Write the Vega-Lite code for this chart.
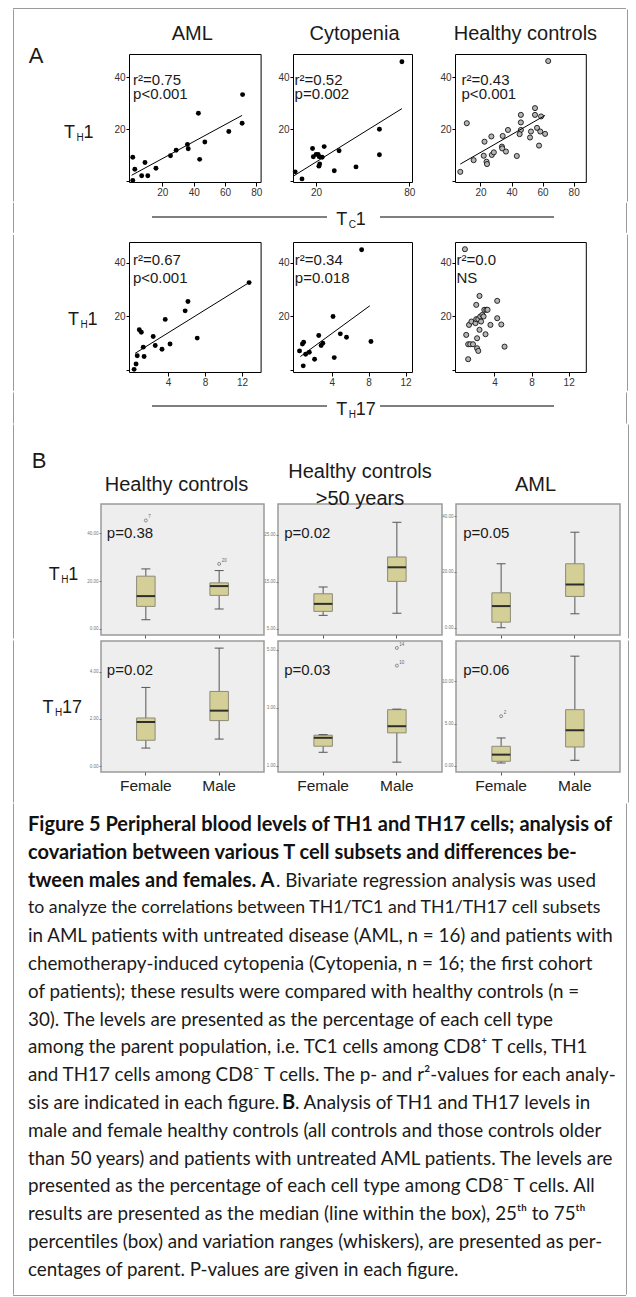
{
  "$schema": "https://vega.github.io/schema/vega-lite/v6.json",
  "background": "white",
  "padding": {"left": 12, "top": 8, "right": 0, "bottom": 0},
  "spacing": 0,
  "datasets": {
    "scatter": [
      {"vs": "TC1", "group": "AML", "pct": 1.1, "th1": 9.2},
      {"vs": "TC1", "group": "AML", "pct": 2.4, "th1": 4.6},
      {"vs": "TC1", "group": "AML", "pct": 1.1, "th1": 0.3},
      {"vs": "TC1", "group": "AML", "pct": 6.8, "th1": 2.1},
      {"vs": "TC1", "group": "AML", "pct": 8.9, "th1": 7.2},
      {"vs": "TC1", "group": "AML", "pct": 10.7, "th1": 2.1},
      {"vs": "TC1", "group": "AML", "pct": 15.9, "th1": 5.0},
      {"vs": "TC1", "group": "AML", "pct": 25.2, "th1": 9.8},
      {"vs": "TC1", "group": "AML", "pct": 28.8, "th1": 11.9},
      {"vs": "TC1", "group": "AML", "pct": 36.0, "th1": 14.1},
      {"vs": "TC1", "group": "AML", "pct": 36.5, "th1": 12.5},
      {"vs": "TC1", "group": "AML", "pct": 43.0, "th1": 26.1},
      {"vs": "TC1", "group": "AML", "pct": 43.8, "th1": 8.4},
      {"vs": "TC1", "group": "AML", "pct": 47.1, "th1": 15.1},
      {"vs": "TC1", "group": "AML", "pct": 62.4, "th1": 19.1},
      {"vs": "TC1", "group": "AML", "pct": 70.9, "th1": 22.3},
      {"vs": "TC1", "group": "AML", "pct": 71.2, "th1": 33.3},
      {"vs": "TC1", "group": "Cytopenia", "pct": 6.5, "th1": 3.6},
      {"vs": "TC1", "group": "Cytopenia", "pct": 10.9, "th1": 0.9},
      {"vs": "TC1", "group": "Cytopenia", "pct": 17.7, "th1": 12.6},
      {"vs": "TC1", "group": "Cytopenia", "pct": 18.2, "th1": 9.4},
      {"vs": "TC1", "group": "Cytopenia", "pct": 20.0, "th1": 10.3},
      {"vs": "TC1", "group": "Cytopenia", "pct": 21.3, "th1": 10.3},
      {"vs": "TC1", "group": "Cytopenia", "pct": 22.0, "th1": 9.4},
      {"vs": "TC1", "group": "Cytopenia", "pct": 23.9, "th1": 9.2},
      {"vs": "TC1", "group": "Cytopenia", "pct": 22.3, "th1": 6.6},
      {"vs": "TC1", "group": "Cytopenia", "pct": 21.8, "th1": 5.8},
      {"vs": "TC1", "group": "Cytopenia", "pct": 25.2, "th1": 13.3},
      {"vs": "TC1", "group": "Cytopenia", "pct": 34.8, "th1": 11.7},
      {"vs": "TC1", "group": "Cytopenia", "pct": 31.7, "th1": 4.0},
      {"vs": "TC1", "group": "Cytopenia", "pct": 45.7, "th1": 5.5},
      {"vs": "TC1", "group": "Cytopenia", "pct": 60.8, "th1": 20.0},
      {"vs": "TC1", "group": "Cytopenia", "pct": 60.8, "th1": 10.2},
      {"vs": "TC1", "group": "Cytopenia", "pct": 75.3, "th1": 45.9},
      {"vs": "TC1", "group": "Healthy controls", "pct": 7.0, "th1": 3.6},
      {"vs": "TC1", "group": "Healthy controls", "pct": 11.2, "th1": 22.3},
      {"vs": "TC1", "group": "Healthy controls", "pct": 15.6, "th1": 8.1},
      {"vs": "TC1", "group": "Healthy controls", "pct": 22.6, "th1": 15.2},
      {"vs": "TC1", "group": "Healthy controls", "pct": 22.1, "th1": 9.8},
      {"vs": "TC1", "group": "Healthy controls", "pct": 23.9, "th1": 7.5},
      {"vs": "TC1", "group": "Healthy controls", "pct": 24.2, "th1": 6.6},
      {"vs": "TC1", "group": "Healthy controls", "pct": 27.0, "th1": 17.2},
      {"vs": "TC1", "group": "Healthy controls", "pct": 27.3, "th1": 10.1},
      {"vs": "TC1", "group": "Healthy controls", "pct": 28.6, "th1": 11.1},
      {"vs": "TC1", "group": "Healthy controls", "pct": 34.3, "th1": 17.4},
      {"vs": "TC1", "group": "Healthy controls", "pct": 33.8, "th1": 13.3},
      {"vs": "TC1", "group": "Healthy controls", "pct": 34.0, "th1": 12.6},
      {"vs": "TC1", "group": "Healthy controls", "pct": 36.4, "th1": 11.4},
      {"vs": "TC1", "group": "Healthy controls", "pct": 37.7, "th1": 19.7},
      {"vs": "TC1", "group": "Healthy controls", "pct": 43.4, "th1": 9.7},
      {"vs": "TC1", "group": "Healthy controls", "pct": 46.0, "th1": 25.5},
      {"vs": "TC1", "group": "Healthy controls", "pct": 46.0, "th1": 22.6},
      {"vs": "TC1", "group": "Healthy controls", "pct": 46.0, "th1": 19.7},
      {"vs": "TC1", "group": "Healthy controls", "pct": 45.2, "th1": 18.1},
      {"vs": "TC1", "group": "Healthy controls", "pct": 52.5, "th1": 19.1},
      {"vs": "TC1", "group": "Healthy controls", "pct": 51.9, "th1": 16.8},
      {"vs": "TC1", "group": "Healthy controls", "pct": 55.1, "th1": 25.5},
      {"vs": "TC1", "group": "Healthy controls", "pct": 55.1, "th1": 28.1},
      {"vs": "TC1", "group": "Healthy controls", "pct": 56.4, "th1": 20.5},
      {"vs": "TC1", "group": "Healthy controls", "pct": 57.7, "th1": 13.7},
      {"vs": "TC1", "group": "Healthy controls", "pct": 59.0, "th1": 24.9},
      {"vs": "TC1", "group": "Healthy controls", "pct": 58.5, "th1": 19.1},
      {"vs": "TC1", "group": "Healthy controls", "pct": 61.6, "th1": 18.2},
      {"vs": "TC1", "group": "Healthy controls", "pct": 63.6, "th1": 46.2},
      {"vs": "TH17", "group": "AML", "pct": 0.35, "th1": 0.1},
      {"vs": "TH17", "group": "AML", "pct": 0.56, "th1": 2.1},
      {"vs": "TH17", "group": "AML", "pct": 0.69, "th1": 5.2},
      {"vs": "TH17", "group": "AML", "pct": 0.91, "th1": 14.9},
      {"vs": "TH17", "group": "AML", "pct": 1.13, "th1": 14.0},
      {"vs": "TH17", "group": "AML", "pct": 1.34, "th1": 8.4},
      {"vs": "TH17", "group": "AML", "pct": 1.43, "th1": 4.9},
      {"vs": "TH17", "group": "AML", "pct": 2.41, "th1": 12.4},
      {"vs": "TH17", "group": "AML", "pct": 2.63, "th1": 9.0},
      {"vs": "TH17", "group": "AML", "pct": 3.36, "th1": 7.6},
      {"vs": "TH17", "group": "AML", "pct": 3.71, "th1": 18.8},
      {"vs": "TH17", "group": "AML", "pct": 4.23, "th1": 9.6},
      {"vs": "TH17", "group": "AML", "pct": 5.86, "th1": 22.0},
      {"vs": "TH17", "group": "AML", "pct": 6.16, "th1": 25.5},
      {"vs": "TH17", "group": "AML", "pct": 7.16, "th1": 11.8},
      {"vs": "TH17", "group": "AML", "pct": 12.76, "th1": 32.6},
      {"vs": "TH17", "group": "Cytopenia", "pct": 0.51, "th1": 7.0},
      {"vs": "TH17", "group": "Cytopenia", "pct": 0.82, "th1": 9.6},
      {"vs": "TH17", "group": "Cytopenia", "pct": 0.91, "th1": 1.4},
      {"vs": "TH17", "group": "Cytopenia", "pct": 0.95, "th1": 10.25},
      {"vs": "TH17", "group": "Cytopenia", "pct": 1.17, "th1": 5.75},
      {"vs": "TH17", "group": "Cytopenia", "pct": 1.57, "th1": 6.5},
      {"vs": "TH17", "group": "Cytopenia", "pct": 2.14, "th1": 3.9},
      {"vs": "TH17", "group": "Cytopenia", "pct": 2.59, "th1": 12.75},
      {"vs": "TH17", "group": "Cytopenia", "pct": 2.85, "th1": 9.0},
      {"vs": "TH17", "group": "Cytopenia", "pct": 3.03, "th1": 9.9},
      {"vs": "TH17", "group": "Cytopenia", "pct": 4.27, "th1": 4.5},
      {"vs": "TH17", "group": "Cytopenia", "pct": 4.14, "th1": 19.9},
      {"vs": "TH17", "group": "Cytopenia", "pct": 4.93, "th1": 13.4},
      {"vs": "TH17", "group": "Cytopenia", "pct": 5.6, "th1": 12.1},
      {"vs": "TH17", "group": "Cytopenia", "pct": 7.24, "th1": 44.9},
      {"vs": "TH17", "group": "Cytopenia", "pct": 8.25, "th1": 10.5},
      {"vs": "TH17", "group": "Healthy controls", "pct": 0.82, "th1": 45.1},
      {"vs": "TH17", "group": "Healthy controls", "pct": 0.96, "th1": 13.0},
      {"vs": "TH17", "group": "Healthy controls", "pct": 1.17, "th1": 9.5},
      {"vs": "TH17", "group": "Healthy controls", "pct": 1.26, "th1": 16.75},
      {"vs": "TH17", "group": "Healthy controls", "pct": 1.39, "th1": 9.5},
      {"vs": "TH17", "group": "Healthy controls", "pct": 1.17, "th1": 3.9},
      {"vs": "TH17", "group": "Healthy controls", "pct": 1.69, "th1": 9.5},
      {"vs": "TH17", "group": "Healthy controls", "pct": 1.52, "th1": 18.0},
      {"vs": "TH17", "group": "Healthy controls", "pct": 1.96, "th1": 17.4},
      {"vs": "TH17", "group": "Healthy controls", "pct": 2.04, "th1": 18.9},
      {"vs": "TH17", "group": "Healthy controls", "pct": 2.04, "th1": 24.25},
      {"vs": "TH17", "group": "Healthy controls", "pct": 2.13, "th1": 11.75},
      {"vs": "TH17", "group": "Healthy controls", "pct": 2.13, "th1": 8.0},
      {"vs": "TH17", "group": "Healthy controls", "pct": 2.26, "th1": 7.0},
      {"vs": "TH17", "group": "Healthy controls", "pct": 2.26, "th1": 18.9},
      {"vs": "TH17", "group": "Healthy controls", "pct": 2.39, "th1": 14.9},
      {"vs": "TH17", "group": "Healthy controls", "pct": 2.39, "th1": 27.6},
      {"vs": "TH17", "group": "Healthy controls", "pct": 2.47, "th1": 19.9},
      {"vs": "TH17", "group": "Healthy controls", "pct": 2.56, "th1": 18.0},
      {"vs": "TH17", "group": "Healthy controls", "pct": 2.7, "th1": 20.5},
      {"vs": "TH17", "group": "Healthy controls", "pct": 2.83, "th1": 19.9},
      {"vs": "TH17", "group": "Healthy controls", "pct": 2.91, "th1": 22.4},
      {"vs": "TH17", "group": "Healthy controls", "pct": 3.04, "th1": 13.25},
      {"vs": "TH17", "group": "Healthy controls", "pct": 3.13, "th1": 22.4},
      {"vs": "TH17", "group": "Healthy controls", "pct": 3.26, "th1": 22.4},
      {"vs": "TH17", "group": "Healthy controls", "pct": 3.57, "th1": 16.75},
      {"vs": "TH17", "group": "Healthy controls", "pct": 4.3, "th1": 25.75},
      {"vs": "TH17", "group": "Healthy controls", "pct": 4.3, "th1": 19.25},
      {"vs": "TH17", "group": "Healthy controls", "pct": 4.74, "th1": 16.9},
      {"vs": "TH17", "group": "Healthy controls", "pct": 5.09, "th1": 8.6}
    ],
    "fits": [
      {"vs": "TC1", "group": "AML", "pct": 0.4, "th1": 2.3},
      {"vs": "TC1", "group": "AML", "pct": 70.9, "th1": 25.3},
      {"vs": "TC1", "group": "Cytopenia", "pct": 5.7, "th1": 2.1},
      {"vs": "TC1", "group": "Cytopenia", "pct": 75.3, "th1": 27.9},
      {"vs": "TC1", "group": "Healthy controls", "pct": 7.0, "th1": 6.6},
      {"vs": "TC1", "group": "Healthy controls", "pct": 61.6, "th1": 25.3},
      {"vs": "TH17", "group": "AML", "pct": 0.46, "th1": 6.1},
      {"vs": "TH17", "group": "AML", "pct": 12.76, "th1": 32.6},
      {"vs": "TH17", "group": "Cytopenia", "pct": 0.6, "th1": 4.9},
      {"vs": "TH17", "group": "Cytopenia", "pct": 8.12, "th1": 23.9}
    ],
    "stats": [
      {"vs": "TC1", "group": "AML", "r2": "r²=0.75", "p": "p<0.001"},
      {"vs": "TC1", "group": "Cytopenia", "r2": "r²=0.52", "p": "p=0.002"},
      {"vs": "TC1", "group": "Healthy controls", "r2": "r²=0.43", "p": "p<0.001"},
      {"vs": "TH17", "group": "AML", "r2": "r²=0.67", "p": "p<0.001"},
      {"vs": "TH17", "group": "Cytopenia", "r2": "r²=0.34", "p": "p=0.018"},
      {"vs": "TH17", "group": "Healthy controls", "r2": "r²=0.0", "p": "NS"}
    ],
    "boxes": [
      {"cohort": "Healthy controls", "subset": "TH1", "sex": "Female", "lower": 3.8, "q1": 9.4, "median": 13.7, "q3": 22.05, "upper": 25.1},
      {"cohort": "Healthy controls", "subset": "TH1", "sex": "Male", "lower": 8.3, "q1": 14.0, "median": 17.9, "q3": 19.25, "upper": 24.4},
      {"cohort": "Healthy controls >50 years", "subset": "TH1", "sex": "Female", "lower": 7.85, "q1": 8.7, "median": 10.3, "q3": 12.45, "upper": 13.9},
      {"cohort": "Healthy controls >50 years", "subset": "TH1", "sex": "Male", "lower": 8.3, "q1": 15.1, "median": 18.1, "q3": 20.3, "upper": 27.7},
      {"cohort": "AML", "subset": "TH1", "sex": "Female", "lower": 0.0, "q1": 2.0, "median": 7.75, "q3": 12.5, "upper": 22.9},
      {"cohort": "AML", "subset": "TH1", "sex": "Male", "lower": 5.0, "q1": 11.2, "median": 15.5, "q3": 22.9, "upper": 34.2},
      {"cohort": "Healthy controls", "subset": "TH17", "sex": "Female", "lower": 0.77, "q1": 1.1, "median": 1.87, "q3": 2.04, "upper": 3.33},
      {"cohort": "Healthy controls", "subset": "TH17", "sex": "Male", "lower": 1.15, "q1": 1.93, "median": 2.35, "q3": 3.16, "upper": 4.99},
      {"cohort": "Healthy controls >50 years", "subset": "TH17", "sex": "Female", "lower": 1.46, "q1": 1.67, "median": 1.96, "q3": 2.05, "upper": 2.07},
      {"cohort": "Healthy controls >50 years", "subset": "TH17", "sex": "Male", "lower": 1.12, "q1": 2.13, "median": 2.36, "q3": 2.93, "upper": 2.95},
      {"cohort": "AML", "subset": "TH17", "sex": "Female", "lower": 0.32, "q1": 0.52, "median": 1.31, "q3": 2.3, "upper": 3.29},
      {"cohort": "AML", "subset": "TH17", "sex": "Male", "lower": 0.64, "q1": 2.22, "median": 4.2, "q3": 6.65, "upper": 13.0}
    ],
    "outliers": [
      {"cohort": "Healthy controls", "subset": "TH1", "sex": "Female", "value": 45.4, "case": "7"},
      {"cohort": "Healthy controls", "subset": "TH1", "sex": "Male", "value": 27.2, "case": "20"},
      {"cohort": "Healthy controls >50 years", "subset": "TH17", "sex": "Male", "value": 5.06, "case": "14"},
      {"cohort": "Healthy controls >50 years", "subset": "TH17", "sex": "Male", "value": 4.45, "case": "10"},
      {"cohort": "AML", "subset": "TH17", "sex": "Female", "value": 5.87, "case": "2"}
    ],
    "pvalues": [
      {"cohort": "Healthy controls", "subset": "TH1", "p": "p=0.38"},
      {"cohort": "Healthy controls >50 years", "subset": "TH1", "p": "p=0.02"},
      {"cohort": "AML", "subset": "TH1", "p": "p=0.05"},
      {"cohort": "Healthy controls", "subset": "TH17", "p": "p=0.02"},
      {"cohort": "Healthy controls >50 years", "subset": "TH17", "p": "p=0.03"},
      {"cohort": "AML", "subset": "TH17", "p": "p=0.06"}
    ],
    "caption": [
      {"line": 1, "part": "title", "text": "Figure 5 Peripheral blood levels of TH1 and TH17 cells; analysis of"},
      {"line": 2, "part": "title", "text": "covariation between various T cell subsets and differences be-"},
      {"line": 3, "part": "title", "text": "tween males and females. A"},
      {"line": 3, "part": "continuation", "text": ". Bivariate regression analysis was used"},
      {"line": 4, "part": "body", "text": "to analyze the correlations between TH1/TC1 and TH1/TH17 cell subsets"},
      {"line": 5, "part": "body", "text": "in AML patients with untreated disease (AML, n = 16) and patients with"},
      {"line": 6, "part": "body", "text": "chemotherapy-induced cytopenia (Cytopenia, n = 16; the first cohort"},
      {"line": 7, "part": "body", "text": "of patients); these results were compared with healthy controls (n ="},
      {"line": 8, "part": "body", "text": "30). The levels are presented as the percentage of each cell type"},
      {"line": 9, "part": "body", "text": "among the parent population, i.e. TC1 cells among CD8⁺ T cells, TH1"},
      {"line": 10, "part": "body", "text": "and TH17 cells among CD8⁻ T cells. The p- and r²-values for each analy-"},
      {"line": 11, "part": "body", "text": "sis are indicated in each figure."},
      {"line": 11, "part": "label", "text": "B"},
      {"line": 11, "part": "continuation", "text": ". Analysis of TH1 and TH17 levels in"},
      {"line": 12, "part": "body", "text": "male and female healthy controls (all controls and those controls older"},
      {"line": 13, "part": "body", "text": "than 50 years) and patients with untreated AML patients. The levels are"},
      {"line": 14, "part": "body", "text": "presented as the percentage of each cell type among CD8⁻ T cells. All"},
      {"line": 15, "part": "body", "text": "results are presented as the median (line within the box), 25ᵗʰ to 75ᵗʰ"},
      {"line": 16, "part": "body", "text": "percentiles (box) and variation ranges (whiskers), are presented as per-"},
      {"line": 17, "part": "body", "text": "centages of parent. P-values are given in each figure."}
    ]
  },
  "vconcat": [
    {"width": 613, "height": 1, "view": {"stroke": null}, "data": {"values": [{"edge": "top"}]}, "mark": {"type": "rule", "color": "#9b9b9b"}, "encoding": {"y": {"datum": 0.5, "type": "quantitative", "scale": {"domain": [0, 1]}, "axis": null}}},
    {"bounds": "flush", "spacing": 0, "hconcat": [
      {"width": 1, "height": 1, "view": {"stroke": null}, "data": {"values": [{"edge": "left"}]}, "mark": {"type": "rule", "color": "#9b9b9b"}, "encoding": {"x": {"datum": 0.5, "type": "quantitative", "scale": {"domain": [0, 1]}, "axis": null}, "y": {"datum": -44.5, "type": "quantitative", "scale": {"domain": [0, 1], "range": [0, 1]}, "axis": null}, "y2": {"datum": 147.5}}},
      {"width": 114.7, "height": 128, "view": {"stroke": null},
       "data": {"values": [{"panel": "A", "cell": "T", "sub": "H", "num": "1"}]},
       "layer": [
         {"mark": {"type": "text", "fontSize": 22, "align": "center", "baseline": "alphabetic", "dx": -35.35, "dy": -55}, "encoding": {"text": {"field": "panel"}}},
         {"mark": {"type": "text", "fontSize": 18, "align": "right", "baseline": "alphabetic", "dx": 3.65, "dy": 20}, "encoding": {"text": {"field": "cell"}}},
         {"mark": {"type": "text", "fontSize": 10, "align": "left", "baseline": "alphabetic", "dx": 5.15, "dy": 23}, "encoding": {"text": {"field": "sub"}}},
         {"mark": {"type": "text", "fontSize": 18, "align": "left", "baseline": "alphabetic", "dx": 12.15, "dy": 20}, "encoding": {"text": {"field": "num"}}}
       ]},
      {"width": 131.6, "height": 128,
       "title": {"text": "AML", "fontSize": 20, "offset": 10, "dx": -2.5},
       "layer": [
         {"data": {"name": "scatter"}, "transform": [{"filter": "datum.vs === 'TC1' && datum.group === 'AML'"}],
          "mark": {"type": "circle", "size": 24, "color": "#000000", "opacity": 1},
          "encoding": {
            "x": {"field": "pct", "type": "quantitative", "title": null, "scale": {"domain": [-1.3, 82.7], "nice": false, "zero": false}, "axis": {"values": [20, 40, 60, 80], "labelOverlap": false, "labelSeparation": -30, "labelFlush": false, "title": null, "tickSize": 4, "labelFontSize": 10, "labelPadding": 1}},
            "y": {"field": "th1", "type": "quantitative", "title": null, "scale": {"domain": [-0.3, 48.9], "nice": false, "zero": false}, "axis": {"values": [0, 10, 20, 30, 40], "labelOverlap": false, "labelSeparation": -30, "labelFlush": false, "labelExpr": "datum.value === 0 ? '' : datum.label", "title": null, "tickSize": 3, "labelFontSize": 10, "labelPadding": 1}}}},
         {"data": {"name": "fits"}, "transform": [{"filter": "datum.vs === 'TC1' && datum.group === 'AML'"}],
          "mark": {"type": "line", "color": "#000000", "strokeWidth": 1},
          "encoding": {"x": {"field": "pct", "type": "quantitative", "title": null}, "y": {"field": "th1", "type": "quantitative", "title": null}}},
         {"data": {"name": "stats"}, "transform": [{"filter": "datum.vs === 'TC1' && datum.group === 'AML'"}],
          "mark": {"type": "text", "align": "left", "baseline": "middle", "fontSize": 15},
          "encoding": {"x": {"datum": 1.3}, "y": {"datum": 39}, "text": {"field": "r2"}}},
         {"data": {"name": "stats"}, "transform": [{"filter": "datum.vs === 'TC1' && datum.group === 'AML'"}],
          "mark": {"type": "text", "align": "left", "baseline": "middle", "fontSize": 15},
          "encoding": {"x": {"datum": 1.3}, "y": {"datum": 33.4}, "text": {"field": "p"}}}
       ]},
      {"width": 31.4, "height": 1, "data": {"values": []}, "mark": "point", "encoding": {}, "view": {"stroke": null}},
      {"width": 119, "height": 128,
       "title": {"text": "Cytopenia", "fontSize": 20, "offset": 10, "dx": 2},
       "layer": [
         {"data": {"name": "scatter"}, "transform": [{"filter": "datum.vs === 'TC1' && datum.group === 'Cytopenia'"}],
          "mark": {"type": "circle", "size": 24, "color": "#000000", "opacity": 1},
          "encoding": {
            "x": {"field": "pct", "type": "quantitative", "title": null, "scale": {"domain": [5.1, 81.8], "nice": false, "zero": false}, "axis": {"values": [20, 40, 60, 80], "labelOverlap": false, "labelSeparation": -30, "labelFlush": false, "title": null, "tickSize": 4, "labelFontSize": 10, "labelPadding": 1}},
            "y": {"field": "th1", "type": "quantitative", "title": null, "scale": {"domain": [-0.3, 48.9], "nice": false, "zero": false}, "axis": {"values": [0, 10, 20, 30, 40], "labelOverlap": false, "labelSeparation": -30, "labelFlush": false, "labelExpr": "datum.value === 0 ? '' : datum.label", "title": null, "tickSize": 3, "labelFontSize": 10, "labelPadding": 1}}}},
         {"data": {"name": "fits"}, "transform": [{"filter": "datum.vs === 'TC1' && datum.group === 'Cytopenia'"}],
          "mark": {"type": "line", "color": "#000000", "strokeWidth": 1},
          "encoding": {"x": {"field": "pct", "type": "quantitative", "title": null}, "y": {"field": "th1", "type": "quantitative", "title": null}}},
         {"data": {"name": "stats"}, "transform": [{"filter": "datum.vs === 'TC1' && datum.group === 'Cytopenia'"}],
          "mark": {"type": "text", "align": "left", "baseline": "middle", "fontSize": 15},
          "encoding": {"x": {"datum": 6.1}, "y": {"datum": 39}, "text": {"field": "r2"}}},
         {"data": {"name": "stats"}, "transform": [{"filter": "datum.vs === 'TC1' && datum.group === 'Cytopenia'"}],
          "mark": {"type": "text", "align": "left", "baseline": "middle", "fontSize": 15},
          "encoding": {"x": {"datum": 6.1}, "y": {"datum": 33.4}, "text": {"field": "p"}}}
       ]},
      {"width": 42.5, "height": 1, "data": {"values": []}, "mark": "point", "encoding": {}, "view": {"stroke": null}},
      {"width": 130.8, "height": 128,
       "title": {"text": "Healthy controls", "fontSize": 20, "offset": 10, "dx": 5},
       "layer": [
         {"data": {"name": "scatter"}, "transform": [{"filter": "datum.vs === 'TC1' && datum.group === 'Healthy controls'"}],
          "mark": {"type": "circle", "size": 26, "fill": "#b5b5b5", "stroke": "#000000", "strokeWidth": 0.8, "opacity": 1},
          "encoding": {
            "x": {"field": "pct", "type": "quantitative", "title": null, "scale": {"domain": [3.6, 87.8], "nice": false, "zero": false}, "axis": {"values": [20, 40, 60, 80], "labelOverlap": false, "labelSeparation": -30, "labelFlush": false, "title": null, "tickSize": 4, "labelFontSize": 10, "labelPadding": 1}},
            "y": {"field": "th1", "type": "quantitative", "title": null, "scale": {"domain": [-0.3, 48.9], "nice": false, "zero": false}, "axis": {"values": [0, 10, 20, 30, 40], "labelOverlap": false, "labelSeparation": -30, "labelFlush": false, "labelExpr": "datum.value === 0 ? '' : datum.label", "title": null, "tickSize": 3, "labelFontSize": 10, "labelPadding": 1}}}},
         {"data": {"name": "fits"}, "transform": [{"filter": "datum.vs === 'TC1' && datum.group === 'Healthy controls'"}],
          "mark": {"type": "line", "color": "#000000", "strokeWidth": 1},
          "encoding": {"x": {"field": "pct", "type": "quantitative", "title": null}, "y": {"field": "th1", "type": "quantitative", "title": null}}},
         {"data": {"name": "stats"}, "transform": [{"filter": "datum.vs === 'TC1' && datum.group === 'Healthy controls'"}],
          "mark": {"type": "text", "align": "left", "baseline": "middle", "fontSize": 15},
          "encoding": {"x": {"datum": 7.8}, "y": {"datum": 39}, "text": {"field": "r2"}}},
         {"data": {"name": "stats"}, "transform": [{"filter": "datum.vs === 'TC1' && datum.group === 'Healthy controls'"}],
          "mark": {"type": "text", "align": "left", "baseline": "middle", "fontSize": 15},
          "encoding": {"x": {"datum": 7.8}, "y": {"datum": 33.4}, "text": {"field": "p"}}}
       ]},
      {"width": 41, "height": 1, "data": {"values": []}, "mark": "point", "encoding": {}, "view": {"stroke": null}},
      {"width": 1, "height": 1, "view": {"stroke": null}, "data": {"values": [{"edge": "right"}]}, "mark": {"type": "rule", "color": "#9b9b9b"}, "encoding": {"x": {"datum": 0.5, "type": "quantitative", "scale": {"domain": [0, 1]}, "axis": null}, "y": {"datum": -44.5, "type": "quantitative", "scale": {"domain": [0, 1], "range": [0, 1]}, "axis": null}, "y2": {"datum": 147.5}}}
    ]},
    {"bounds": "flush", "spacing": 0, "hconcat": [
      {"width": 1, "height": 1, "view": {"stroke": null}, "data": {"values": [{"edge": "left"}]}, "mark": {"type": "rule", "color": "#9b9b9b"}, "encoding": {"x": {"datum": 0.5, "type": "quantitative", "scale": {"domain": [0, 1]}, "axis": null}, "y": {"datum": -4.2, "type": "quantitative", "scale": {"domain": [0, 1], "range": [0, 1]}, "axis": null}, "y2": {"datum": 25.8}}},
      {"width": 138, "height": 1, "data": {"values": []}, "mark": "point", "encoding": {}, "view": {"stroke": null}},
      {"width": 175, "height": 20, "view": {"stroke": null}, "data": {"values": [{"part": "left"}]}, "mark": {"type": "rule", "color": "#000000", "strokeWidth": 1}, "encoding": {"y": {"datum": 0.5, "type": "quantitative", "scale": {"domain": [0, 1]}, "axis": null}}},
      {"width": 52.5, "height": 20, "view": {"stroke": null},
       "data": {"values": [{"cell": "T", "sub": "C", "num": "1"}]},
       "layer": [
         {"mark": {"type": "text", "fontSize": 18, "align": "right", "baseline": "alphabetic", "dx": -6.05, "dy": 8.3}, "encoding": {"text": {"field": "cell"}}},
         {"mark": {"type": "text", "fontSize": 10, "align": "left", "baseline": "alphabetic", "dx": -4.55, "dy": 11.3}, "encoding": {"text": {"field": "sub"}}},
         {"mark": {"type": "text", "fontSize": 18, "align": "left", "baseline": "alphabetic", "dx": 2.45, "dy": 8.3}, "encoding": {"text": {"field": "num"}}}
       ]},
      {"width": 174, "height": 20, "view": {"stroke": null}, "data": {"values": [{"part": "right"}]}, "mark": {"type": "rule", "color": "#000000", "strokeWidth": 1}, "encoding": {"y": {"datum": 0.5, "type": "quantitative", "scale": {"domain": [0, 1]}, "axis": null}}},
      {"width": 71.5, "height": 1, "data": {"values": []}, "mark": "point", "encoding": {}, "view": {"stroke": null}},
      {"width": 1, "height": 1, "view": {"stroke": null}, "data": {"values": [{"edge": "right"}]}, "mark": {"type": "rule", "color": "#9b9b9b"}, "encoding": {"x": {"datum": 0.5, "type": "quantitative", "scale": {"domain": [0, 1]}, "axis": null}, "y": {"datum": -4.2, "type": "quantitative", "scale": {"domain": [0, 1], "range": [0, 1]}, "axis": null}, "y2": {"datum": 25.8}}}
    ]},
    {"bounds": "flush", "spacing": 0, "hconcat": [
      {"width": 1, "height": 1, "view": {"stroke": null}, "data": {"values": [{"edge": "left"}]}, "mark": {"type": "rule", "color": "#9b9b9b"}, "encoding": {"x": {"datum": 0.5, "type": "quantitative", "scale": {"domain": [0, 1]}, "axis": null}, "y": {"datum": -7.2, "type": "quantitative", "scale": {"domain": [0, 1], "range": [0, 1]}, "axis": null}, "y2": {"datum": 148.8}}},
      {"width": 114.7, "height": 130, "view": {"stroke": null},
       "data": {"values": [{"cell": "T", "sub": "H", "num": "1"}]},
       "layer": [
         {"mark": {"type": "text", "fontSize": 18, "align": "right", "baseline": "alphabetic", "dx": 7.75, "dy": 17.6}, "encoding": {"text": {"field": "cell"}}},
         {"mark": {"type": "text", "fontSize": 10, "align": "left", "baseline": "alphabetic", "dx": 9.25, "dy": 20.6}, "encoding": {"text": {"field": "sub"}}},
         {"mark": {"type": "text", "fontSize": 18, "align": "left", "baseline": "alphabetic", "dx": 16.25, "dy": 17.6}, "encoding": {"text": {"field": "num"}}}
       ]},
      {"width": 131.6, "height": 130,
       "layer": [
         {"data": {"name": "scatter"}, "transform": [{"filter": "datum.vs === 'TH17' && datum.group === 'AML'"}],
          "mark": {"type": "circle", "size": 24, "color": "#000000", "opacity": 1},
          "encoding": {
            "x": {"field": "pct", "type": "quantitative", "title": null, "scale": {"domain": [-0.2, 14.0], "nice": false, "zero": false}, "axis": {"values": [4, 8, 12], "labelOverlap": false, "labelSeparation": -30, "labelFlush": false, "title": null, "tickSize": 4, "labelFontSize": 10, "labelPadding": 1}},
            "y": {"field": "th1", "type": "quantitative", "title": null, "scale": {"domain": [-0.9, 47.8], "nice": false, "zero": false}, "axis": {"values": [0, 10, 20, 30, 40], "labelOverlap": false, "labelSeparation": -30, "labelFlush": false, "labelExpr": "datum.value === 0 ? '' : datum.label", "title": null, "tickSize": 3, "labelFontSize": 10, "labelPadding": 1}}}},
         {"data": {"name": "fits"}, "transform": [{"filter": "datum.vs === 'TH17' && datum.group === 'AML'"}],
          "mark": {"type": "line", "color": "#000000", "strokeWidth": 1},
          "encoding": {"x": {"field": "pct", "type": "quantitative", "title": null}, "y": {"field": "th1", "type": "quantitative", "title": null}}},
         {"data": {"name": "stats"}, "transform": [{"filter": "datum.vs === 'TH17' && datum.group === 'AML'"}],
          "mark": {"type": "text", "align": "left", "baseline": "middle", "fontSize": 15},
          "encoding": {"x": {"datum": 0.22}, "y": {"datum": 41.2}, "text": {"field": "r2"}}},
         {"data": {"name": "stats"}, "transform": [{"filter": "datum.vs === 'TH17' && datum.group === 'AML'"}],
          "mark": {"type": "text", "align": "left", "baseline": "middle", "fontSize": 15},
          "encoding": {"x": {"datum": 0.22}, "y": {"datum": 34.3}, "text": {"field": "p"}}}
       ]},
      {"width": 31.4, "height": 1, "data": {"values": []}, "mark": "point", "encoding": {}, "view": {"stroke": null}},
      {"width": 119, "height": 130,
       "layer": [
         {"data": {"name": "scatter"}, "transform": [{"filter": "datum.vs === 'TH17' && datum.group === 'Cytopenia'"}],
          "mark": {"type": "circle", "size": 24, "color": "#000000", "opacity": 1},
          "encoding": {
            "x": {"field": "pct", "type": "quantitative", "title": null, "scale": {"domain": [-0.2, 12.7], "nice": false, "zero": false}, "axis": {"values": [4, 8, 12], "labelOverlap": false, "labelSeparation": -30, "labelFlush": false, "title": null, "tickSize": 4, "labelFontSize": 10, "labelPadding": 1}},
            "y": {"field": "th1", "type": "quantitative", "title": null, "scale": {"domain": [-0.9, 47.8], "nice": false, "zero": false}, "axis": {"values": [0, 10, 20, 30, 40], "labelOverlap": false, "labelSeparation": -30, "labelFlush": false, "labelExpr": "datum.value === 0 ? '' : datum.label", "title": null, "tickSize": 3, "labelFontSize": 10, "labelPadding": 1}}}},
         {"data": {"name": "fits"}, "transform": [{"filter": "datum.vs === 'TH17' && datum.group === 'Cytopenia'"}],
          "mark": {"type": "line", "color": "#000000", "strokeWidth": 1},
          "encoding": {"x": {"field": "pct", "type": "quantitative", "title": null}, "y": {"field": "th1", "type": "quantitative", "title": null}}},
         {"data": {"name": "stats"}, "transform": [{"filter": "datum.vs === 'TH17' && datum.group === 'Cytopenia'"}],
          "mark": {"type": "text", "align": "left", "baseline": "middle", "fontSize": 15},
          "encoding": {"x": {"datum": 0.0}, "y": {"datum": 41.2}, "text": {"field": "r2"}}},
         {"data": {"name": "stats"}, "transform": [{"filter": "datum.vs === 'TH17' && datum.group === 'Cytopenia'"}],
          "mark": {"type": "text", "align": "left", "baseline": "middle", "fontSize": 15},
          "encoding": {"x": {"datum": 0.0}, "y": {"datum": 34.3}, "text": {"field": "p"}}}
       ]},
      {"width": 42.5, "height": 1, "data": {"values": []}, "mark": "point", "encoding": {}, "view": {"stroke": null}},
      {"width": 130.8, "height": 130,
       "layer": [
         {"data": {"name": "scatter"}, "transform": [{"filter": "datum.vs === 'TH17' && datum.group === 'Healthy controls'"}],
          "mark": {"type": "circle", "size": 26, "fill": "#b5b5b5", "stroke": "#000000", "strokeWidth": 0.8, "opacity": 1},
          "encoding": {
            "x": {"field": "pct", "type": "quantitative", "title": null, "scale": {"domain": [-0.25, 13.85], "nice": false, "zero": false}, "axis": {"values": [4, 8, 12], "labelOverlap": false, "labelSeparation": -30, "labelFlush": false, "title": null, "tickSize": 4, "labelFontSize": 10, "labelPadding": 1}},
            "y": {"field": "th1", "type": "quantitative", "title": null, "scale": {"domain": [-0.9, 47.8], "nice": false, "zero": false}, "axis": {"values": [0, 10, 20, 30, 40], "labelOverlap": false, "labelSeparation": -30, "labelFlush": false, "labelExpr": "datum.value === 0 ? '' : datum.label", "title": null, "tickSize": 3, "labelFontSize": 10, "labelPadding": 1}}}},
         {"data": {"name": "stats"}, "transform": [{"filter": "datum.vs === 'TH17' && datum.group === 'Healthy controls'"}],
          "mark": {"type": "text", "align": "left", "baseline": "middle", "fontSize": 15},
          "encoding": {"x": {"datum": -0.1}, "y": {"datum": 41.2}, "text": {"field": "r2"}}},
         {"data": {"name": "stats"}, "transform": [{"filter": "datum.vs === 'TH17' && datum.group === 'Healthy controls'"}],
          "mark": {"type": "text", "align": "left", "baseline": "middle", "fontSize": 15},
          "encoding": {"x": {"datum": -0.1}, "y": {"datum": 34.3}, "text": {"field": "p"}}}
       ]},
      {"width": 41, "height": 1, "data": {"values": []}, "mark": "point", "encoding": {}, "view": {"stroke": null}},
      {"width": 1, "height": 1, "view": {"stroke": null}, "data": {"values": [{"edge": "right"}]}, "mark": {"type": "rule", "color": "#9b9b9b"}, "encoding": {"x": {"datum": 0.5, "type": "quantitative", "scale": {"domain": [0, 1]}, "axis": null}, "y": {"datum": -7.2, "type": "quantitative", "scale": {"domain": [0, 1], "range": [0, 1]}, "axis": null}, "y2": {"datum": 148.8}}}
    ]},
    {"bounds": "flush", "spacing": 0, "hconcat": [
      {"width": 1, "height": 1, "view": {"stroke": null}, "data": {"values": [{"edge": "left"}]}, "mark": {"type": "rule", "color": "#9b9b9b"}, "encoding": {"x": {"datum": 0.5, "type": "quantitative", "scale": {"domain": [0, 1]}, "axis": null}, "y": {"datum": -3.5, "type": "quantitative", "scale": {"domain": [0, 1], "range": [0, 1]}, "axis": null}, "y2": {"datum": 27.5}}},
      {"width": 138, "height": 1, "data": {"values": []}, "mark": "point", "encoding": {}, "view": {"stroke": null}},
      {"width": 175, "height": 20, "view": {"stroke": null}, "data": {"values": [{"part": "left"}]}, "mark": {"type": "rule", "color": "#000000", "strokeWidth": 1}, "encoding": {"y": {"datum": 0.5, "type": "quantitative", "scale": {"domain": [0, 1]}, "axis": null}}},
      {"width": 52.5, "height": 20, "view": {"stroke": null},
       "data": {"values": [{"cell": "T", "sub": "H", "num": "17"}]},
       "layer": [
         {"mark": {"type": "text", "fontSize": 18, "align": "right", "baseline": "alphabetic", "dx": -6.05, "dy": 9.3}, "encoding": {"text": {"field": "cell"}}},
         {"mark": {"type": "text", "fontSize": 10, "align": "left", "baseline": "alphabetic", "dx": -4.55, "dy": 12.3}, "encoding": {"text": {"field": "sub"}}},
         {"mark": {"type": "text", "fontSize": 18, "align": "left", "baseline": "alphabetic", "dx": 2.45, "dy": 9.3}, "encoding": {"text": {"field": "num"}}}
       ]},
      {"width": 174, "height": 20, "view": {"stroke": null}, "data": {"values": [{"part": "right"}]}, "mark": {"type": "rule", "color": "#000000", "strokeWidth": 1}, "encoding": {"y": {"datum": 0.5, "type": "quantitative", "scale": {"domain": [0, 1]}, "axis": null}}},
      {"width": 71.5, "height": 1, "data": {"values": []}, "mark": "point", "encoding": {}, "view": {"stroke": null}},
      {"width": 1, "height": 1, "view": {"stroke": null}, "data": {"values": [{"edge": "right"}]}, "mark": {"type": "rule", "color": "#9b9b9b"}, "encoding": {"x": {"datum": 0.5, "type": "quantitative", "scale": {"domain": [0, 1]}, "axis": null}, "y": {"datum": -3.5, "type": "quantitative", "scale": {"domain": [0, 1], "range": [0, 1]}, "axis": null}, "y2": {"datum": 27.5}}}
    ]},
    {"bounds": "flush", "spacing": 0, "hconcat": [
      {"width": 1, "height": 1, "view": {"stroke": null}, "data": {"values": [{"edge": "left"}]}, "mark": {"type": "rule", "color": "#9b9b9b"}, "encoding": {"x": {"datum": 0.5, "type": "quantitative", "scale": {"domain": [0, 1]}, "axis": null}, "y": {"datum": -79.5, "type": "quantitative", "scale": {"domain": [0, 1], "range": [0, 1]}, "axis": null}, "y2": {"datum": 134.5}}},
      {"width": 73, "height": 131, "view": {"stroke": null},
       "data": {"values": [{"panel": "B", "cell": "T", "sub": "H", "num": "1"}]},
       "layer": [
         {"mark": {"type": "text", "fontSize": 22, "align": "center", "baseline": "alphabetic", "dx": -11.5, "dy": -101.5}, "encoding": {"text": {"field": "panel"}}},
         {"mark": {"type": "text", "fontSize": 18, "align": "right", "baseline": "alphabetic", "dx": 9.2, "dy": 10.8}, "encoding": {"text": {"field": "cell"}}},
         {"mark": {"type": "text", "fontSize": 10, "align": "left", "baseline": "alphabetic", "dx": 10.7, "dy": 13.8}, "encoding": {"text": {"field": "sub"}}},
         {"mark": {"type": "text", "fontSize": 18, "align": "left", "baseline": "alphabetic", "dx": 17.7, "dy": 10.8}, "encoding": {"text": {"field": "num"}}}
       ]},
      {"width": 13.3, "height": 1, "data": {"values": []}, "mark": "point", "encoding": {}, "view": {"stroke": null}},
      {"width": 163, "height": 131,
       "view": {"fill": "#eeeeee", "stroke": "#9a9a9a", "strokeWidth": 1.5},
       "title": {"text": "Healthy controls", "fontSize": 20, "offset": 9, "dx": -6},
       "layer": [
         {"data": {"name": "boxes"}, "transform": [{"filter": "datum.cohort === 'Healthy controls' && datum.subset === 'TH1'"}],
          "mark": {"type": "rule", "color": "#555555", "strokeWidth": 1},
          "encoding": {
            "x": {"field": "sex", "type": "nominal", "title": null, "scale": {"type": "band", "domain": ["Female", "Male"], "paddingInner": 0, "paddingOuter": 0.112}, "axis": {"title": null, "labels": false, "tickSize": 3, "tickColor": "#555555", "bandPosition": 0.5}},
            "y": {"field": "lower", "type": "quantitative", "title": null, "scale": {"domain": [-2.6, 52.3], "nice": false, "zero": false}, "axis": {"values": [0, 10, 20, 30, 40, 50], "labelOverlap": false, "format": ".2f", "title": null, "labelFontSize": 4.5, "labelColor": "#777777", "tickSize": 2, "tickColor": "#777777", "labelPadding": 1}},
            "y2": {"field": "upper"}}},
         {"data": {"name": "boxes"}, "transform": [{"filter": "datum.cohort === 'Healthy controls' && datum.subset === 'TH1'"}],
          "mark": {"type": "bar", "width": 18.5, "fill": "#d4cf96", "stroke": "#8d8b78", "strokeWidth": 1},
          "encoding": {"x": {"field": "sex", "type": "nominal", "title": null}, "y": {"field": "q1", "type": "quantitative", "title": null}, "y2": {"field": "q3"}}},
         {"data": {"name": "boxes"}, "transform": [{"filter": "datum.cohort === 'Healthy controls' && datum.subset === 'TH1'"}],
          "mark": {"type": "tick", "size": 18.5, "thickness": 2, "color": "#2e2e2e", "opacity": 1},
          "encoding": {"x": {"field": "sex", "type": "nominal", "title": null}, "y": {"field": "median", "type": "quantitative", "title": null}}},
         {"data": {"name": "boxes"}, "transform": [{"filter": "datum.cohort === 'Healthy controls' && datum.subset === 'TH1'"}],
          "mark": {"type": "tick", "size": 9, "thickness": 1, "color": "#555555", "opacity": 1},
          "encoding": {"x": {"field": "sex", "type": "nominal", "title": null}, "y": {"field": "lower", "type": "quantitative", "title": null}}},
         {"data": {"name": "boxes"}, "transform": [{"filter": "datum.cohort === 'Healthy controls' && datum.subset === 'TH1'"}],
          "mark": {"type": "tick", "size": 9, "thickness": 1, "color": "#555555", "opacity": 1},
          "encoding": {"x": {"field": "sex", "type": "nominal", "title": null}, "y": {"field": "upper", "type": "quantitative", "title": null}}},
         {"data": {"name": "outliers"}, "transform": [{"filter": "datum.cohort === 'Healthy controls' && datum.subset === 'TH1'"}],
          "mark": {"type": "point", "shape": "circle", "filled": false, "size": 9, "color": "#666666", "strokeWidth": 0.7, "opacity": 1},
          "encoding": {"x": {"field": "sex", "type": "nominal", "title": null}, "y": {"field": "value", "type": "quantitative", "title": null}}},
         {"data": {"name": "outliers"}, "transform": [{"filter": "datum.cohort === 'Healthy controls' && datum.subset === 'TH1'"}],
          "mark": {"type": "text", "fontSize": 4.5, "align": "left", "dx": 2.5, "dy": -3, "color": "#666666"},
          "encoding": {"x": {"field": "sex", "type": "nominal", "title": null}, "y": {"field": "value", "type": "quantitative", "title": null}, "text": {"field": "case"}}},
         {"data": {"name": "pvalues"}, "transform": [{"filter": "datum.cohort === 'Healthy controls' && datum.subset === 'TH1'"}],
          "mark": {"type": "text", "align": "left", "baseline": "middle", "fontSize": 15, "dx": -39},
          "encoding": {"x": {"datum": "Female", "type": "nominal"}, "y": {"datum": 40.2, "type": "quantitative"}, "text": {"field": "p"}}}
       ]},
      {"width": 13.3, "height": 1, "data": {"values": []}, "mark": "point", "encoding": {}, "view": {"stroke": null}},
      {"width": 164, "height": 131,
       "view": {"fill": "#eeeeee", "stroke": "#9a9a9a", "strokeWidth": 1.5},
       "title": {"text": ["Healthy controls", ">50 years"], "fontSize": 20, "lineHeight": 27, "offset": -5},
       "layer": [
         {"data": {"name": "boxes"}, "transform": [{"filter": "datum.cohort === 'Healthy controls >50 years' && datum.subset === 'TH1'"}],
          "mark": {"type": "rule", "color": "#555555", "strokeWidth": 1},
          "encoding": {
            "x": {"field": "sex", "type": "nominal", "title": null, "scale": {"type": "band", "domain": ["Female", "Male"], "paddingInner": 0, "paddingOuter": 0.112}, "axis": {"title": null, "labels": false, "tickSize": 3, "tickColor": "#555555", "bandPosition": 0.5}},
            "y": {"field": "lower", "type": "quantitative", "title": null, "scale": {"domain": [3.66, 31.6], "nice": false, "zero": false}, "axis": {"values": [5, 10, 15, 20, 25, 30], "labelOverlap": false, "format": ".2f", "title": null, "labelFontSize": 4.5, "labelColor": "#777777", "tickSize": 2, "tickColor": "#777777", "labelPadding": 1}},
            "y2": {"field": "upper"}}},
         {"data": {"name": "boxes"}, "transform": [{"filter": "datum.cohort === 'Healthy controls >50 years' && datum.subset === 'TH1'"}],
          "mark": {"type": "bar", "width": 18.5, "fill": "#d4cf96", "stroke": "#8d8b78", "strokeWidth": 1},
          "encoding": {"x": {"field": "sex", "type": "nominal", "title": null}, "y": {"field": "q1", "type": "quantitative", "title": null}, "y2": {"field": "q3"}}},
         {"data": {"name": "boxes"}, "transform": [{"filter": "datum.cohort === 'Healthy controls >50 years' && datum.subset === 'TH1'"}],
          "mark": {"type": "tick", "size": 18.5, "thickness": 2, "color": "#2e2e2e", "opacity": 1},
          "encoding": {"x": {"field": "sex", "type": "nominal", "title": null}, "y": {"field": "median", "type": "quantitative", "title": null}}},
         {"data": {"name": "boxes"}, "transform": [{"filter": "datum.cohort === 'Healthy controls >50 years' && datum.subset === 'TH1'"}],
          "mark": {"type": "tick", "size": 9, "thickness": 1, "color": "#555555", "opacity": 1},
          "encoding": {"x": {"field": "sex", "type": "nominal", "title": null}, "y": {"field": "lower", "type": "quantitative", "title": null}}},
         {"data": {"name": "boxes"}, "transform": [{"filter": "datum.cohort === 'Healthy controls >50 years' && datum.subset === 'TH1'"}],
          "mark": {"type": "tick", "size": 9, "thickness": 1, "color": "#555555", "opacity": 1},
          "encoding": {"x": {"field": "sex", "type": "nominal", "title": null}, "y": {"field": "upper", "type": "quantitative", "title": null}}},
         {"data": {"name": "pvalues"}, "transform": [{"filter": "datum.cohort === 'Healthy controls >50 years' && datum.subset === 'TH1'"}],
          "mark": {"type": "text", "align": "left", "baseline": "middle", "fontSize": 15, "dx": -39},
          "encoding": {"x": {"datum": "Female", "type": "nominal"}, "y": {"datum": 25.4, "type": "quantitative"}, "text": {"field": "p"}}}
       ]},
      {"width": 13.3, "height": 1, "data": {"values": []}, "mark": "point", "encoding": {}, "view": {"stroke": null}},
      {"width": 164, "height": 131,
       "view": {"fill": "#eeeeee", "stroke": "#9a9a9a", "strokeWidth": 1.5},
       "title": {"text": "AML", "fontSize": 20, "offset": 9, "dx": -2.5},
       "layer": [
         {"data": {"name": "boxes"}, "transform": [{"filter": "datum.cohort === 'AML' && datum.subset === 'TH1'"}],
          "mark": {"type": "rule", "color": "#555555", "strokeWidth": 1},
          "encoding": {
            "x": {"field": "sex", "type": "nominal", "title": null, "scale": {"type": "band", "domain": ["Female", "Male"], "paddingInner": 0, "paddingOuter": 0.112}, "axis": {"title": null, "labels": false, "tickSize": 3, "tickColor": "#555555", "bandPosition": 0.5}},
            "y": {"field": "lower", "type": "quantitative", "title": null, "scale": {"domain": [-2.6, 44.3], "nice": false, "zero": false}, "axis": {"values": [0, 10, 20, 30, 40], "labelOverlap": false, "format": ".2f", "title": null, "labelFontSize": 4.5, "labelColor": "#777777", "tickSize": 2, "tickColor": "#777777", "labelPadding": 1}},
            "y2": {"field": "upper"}}},
         {"data": {"name": "boxes"}, "transform": [{"filter": "datum.cohort === 'AML' && datum.subset === 'TH1'"}],
          "mark": {"type": "bar", "width": 18.5, "fill": "#d4cf96", "stroke": "#8d8b78", "strokeWidth": 1},
          "encoding": {"x": {"field": "sex", "type": "nominal", "title": null}, "y": {"field": "q1", "type": "quantitative", "title": null}, "y2": {"field": "q3"}}},
         {"data": {"name": "boxes"}, "transform": [{"filter": "datum.cohort === 'AML' && datum.subset === 'TH1'"}],
          "mark": {"type": "tick", "size": 18.5, "thickness": 2, "color": "#2e2e2e", "opacity": 1},
          "encoding": {"x": {"field": "sex", "type": "nominal", "title": null}, "y": {"field": "median", "type": "quantitative", "title": null}}},
         {"data": {"name": "boxes"}, "transform": [{"filter": "datum.cohort === 'AML' && datum.subset === 'TH1'"}],
          "mark": {"type": "tick", "size": 9, "thickness": 1, "color": "#555555", "opacity": 1},
          "encoding": {"x": {"field": "sex", "type": "nominal", "title": null}, "y": {"field": "lower", "type": "quantitative", "title": null}}},
         {"data": {"name": "boxes"}, "transform": [{"filter": "datum.cohort === 'AML' && datum.subset === 'TH1'"}],
          "mark": {"type": "tick", "size": 9, "thickness": 1, "color": "#555555", "opacity": 1},
          "encoding": {"x": {"field": "sex", "type": "nominal", "title": null}, "y": {"field": "upper", "type": "quantitative", "title": null}}},
         {"data": {"name": "pvalues"}, "transform": [{"filter": "datum.cohort === 'AML' && datum.subset === 'TH1'"}],
          "mark": {"type": "text", "align": "left", "baseline": "middle", "fontSize": 15, "dx": -38},
          "encoding": {"x": {"datum": "Female", "type": "nominal"}, "y": {"datum": 33.8, "type": "quantitative"}, "text": {"field": "p"}}}
       ]},
      {"width": 7.1, "height": 1, "data": {"values": []}, "mark": "point", "encoding": {}, "view": {"stroke": null}},
      {"width": 1, "height": 1, "view": {"stroke": null}, "data": {"values": [{"edge": "right"}]}, "mark": {"type": "rule", "color": "#9b9b9b"}, "encoding": {"x": {"datum": 0.5, "type": "quantitative", "scale": {"domain": [0, 1]}, "axis": null}, "y": {"datum": -79.5, "type": "quantitative", "scale": {"domain": [0, 1], "range": [0, 1]}, "axis": null}, "y2": {"datum": 134.5}}}
    ]},
    {"bounds": "flush", "spacing": 0, "hconcat": [
      {"width": 1, "height": 1, "view": {"stroke": null}, "data": {"values": [{"edge": "left"}]}, "mark": {"type": "rule", "color": "#9b9b9b"}, "encoding": {"x": {"datum": 0.5, "type": "quantitative", "scale": {"domain": [0, 1]}, "axis": null}, "y": {"datum": -0.5, "type": "quantitative", "scale": {"domain": [0, 1], "range": [0, 1]}, "axis": null}, "y2": {"datum": 161.5}}},
      {"width": 73, "height": 131, "view": {"stroke": null},
       "data": {"values": [{"cell": "T", "sub": "H", "num": "17"}]},
       "layer": [
         {"mark": {"type": "text", "fontSize": 18, "align": "right", "baseline": "alphabetic", "dx": 3.1, "dy": 6.5}, "encoding": {"text": {"field": "cell"}}},
         {"mark": {"type": "text", "fontSize": 10, "align": "left", "baseline": "alphabetic", "dx": 4.6, "dy": 9.5}, "encoding": {"text": {"field": "sub"}}},
         {"mark": {"type": "text", "fontSize": 18, "align": "left", "baseline": "alphabetic", "dx": 11.6, "dy": 6.5}, "encoding": {"text": {"field": "num"}}}
       ]},
      {"width": 13.3, "height": 1, "data": {"values": []}, "mark": "point", "encoding": {}, "view": {"stroke": null}},
      {"width": 163, "height": 131,
       "view": {"fill": "#eeeeee", "stroke": "#9a9a9a", "strokeWidth": 1.5},
       "layer": [
         {"data": {"name": "boxes"}, "transform": [{"filter": "datum.cohort === 'Healthy controls' && datum.subset === 'TH17'"}],
          "mark": {"type": "rule", "color": "#555555", "strokeWidth": 1},
          "encoding": {
            "x": {"field": "sex", "type": "nominal", "title": null, "scale": {"type": "band", "domain": ["Female", "Male"], "paddingInner": 0, "paddingOuter": 0.112}, "axis": {"title": null, "labels": true, "labelAngle": 0, "labelFontSize": 15.5, "labelColor": "#222222", "labelPadding": 3, "tickSize": 3, "tickColor": "#555555", "bandPosition": 0.5}},
            "y": {"field": "lower", "type": "quantitative", "title": null, "scale": {"domain": [-0.24, 5.29], "nice": false, "zero": false}, "axis": {"values": [0, 1, 2, 3, 4, 5], "labelOverlap": false, "format": ".2f", "title": "TH17", "titleFontSize": 4, "titleColor": "#666666", "titleFontWeight": "normal", "titlePadding": 1, "labelFontSize": 4.5, "labelColor": "#777777", "tickSize": 2, "tickColor": "#777777", "labelPadding": 1}},
            "y2": {"field": "upper"}}},
         {"data": {"name": "boxes"}, "transform": [{"filter": "datum.cohort === 'Healthy controls' && datum.subset === 'TH17'"}],
          "mark": {"type": "bar", "width": 18.5, "fill": "#d4cf96", "stroke": "#8d8b78", "strokeWidth": 1},
          "encoding": {"x": {"field": "sex", "type": "nominal", "title": null}, "y": {"field": "q1", "type": "quantitative", "title": null}, "y2": {"field": "q3"}}},
         {"data": {"name": "boxes"}, "transform": [{"filter": "datum.cohort === 'Healthy controls' && datum.subset === 'TH17'"}],
          "mark": {"type": "tick", "size": 18.5, "thickness": 2, "color": "#2e2e2e", "opacity": 1},
          "encoding": {"x": {"field": "sex", "type": "nominal", "title": null}, "y": {"field": "median", "type": "quantitative", "title": null}}},
         {"data": {"name": "boxes"}, "transform": [{"filter": "datum.cohort === 'Healthy controls' && datum.subset === 'TH17'"}],
          "mark": {"type": "tick", "size": 9, "thickness": 1, "color": "#555555", "opacity": 1},
          "encoding": {"x": {"field": "sex", "type": "nominal", "title": null}, "y": {"field": "lower", "type": "quantitative", "title": null}}},
         {"data": {"name": "boxes"}, "transform": [{"filter": "datum.cohort === 'Healthy controls' && datum.subset === 'TH17'"}],
          "mark": {"type": "tick", "size": 9, "thickness": 1, "color": "#555555", "opacity": 1},
          "encoding": {"x": {"field": "sex", "type": "nominal", "title": null}, "y": {"field": "upper", "type": "quantitative", "title": null}}},
         {"data": {"name": "pvalues"}, "transform": [{"filter": "datum.cohort === 'Healthy controls' && datum.subset === 'TH17'"}],
          "mark": {"type": "text", "align": "left", "baseline": "middle", "fontSize": 15, "dx": -39},
          "encoding": {"x": {"datum": "Female", "type": "nominal"}, "y": {"datum": 4.08, "type": "quantitative"}, "text": {"field": "p"}}}
       ]},
      {"width": 13.3, "height": 1, "data": {"values": []}, "mark": "point", "encoding": {}, "view": {"stroke": null}},
      {"width": 164, "height": 131,
       "view": {"fill": "#eeeeee", "stroke": "#9a9a9a", "strokeWidth": 1.5},
       "layer": [
         {"data": {"name": "boxes"}, "transform": [{"filter": "datum.cohort === 'Healthy controls >50 years' && datum.subset === 'TH17'"}],
          "mark": {"type": "rule", "color": "#555555", "strokeWidth": 1},
          "encoding": {
            "x": {"field": "sex", "type": "nominal", "title": null, "scale": {"type": "band", "domain": ["Female", "Male"], "paddingInner": 0, "paddingOuter": 0.112}, "axis": {"title": null, "labels": true, "labelAngle": 0, "labelFontSize": 15.5, "labelColor": "#222222", "labelPadding": 3, "tickSize": 3, "tickColor": "#555555", "bandPosition": 0.5}},
            "y": {"field": "lower", "type": "quantitative", "title": null, "scale": {"domain": [0.78, 5.3], "nice": false, "zero": false}, "axis": {"values": [1, 2, 3, 4, 5], "labelOverlap": false, "format": ".2f", "title": null, "labelFontSize": 4.5, "labelColor": "#777777", "tickSize": 2, "tickColor": "#777777", "labelPadding": 1}},
            "y2": {"field": "upper"}}},
         {"data": {"name": "boxes"}, "transform": [{"filter": "datum.cohort === 'Healthy controls >50 years' && datum.subset === 'TH17'"}],
          "mark": {"type": "bar", "width": 18.5, "fill": "#d4cf96", "stroke": "#8d8b78", "strokeWidth": 1},
          "encoding": {"x": {"field": "sex", "type": "nominal", "title": null}, "y": {"field": "q1", "type": "quantitative", "title": null}, "y2": {"field": "q3"}}},
         {"data": {"name": "boxes"}, "transform": [{"filter": "datum.cohort === 'Healthy controls >50 years' && datum.subset === 'TH17'"}],
          "mark": {"type": "tick", "size": 18.5, "thickness": 2, "color": "#2e2e2e", "opacity": 1},
          "encoding": {"x": {"field": "sex", "type": "nominal", "title": null}, "y": {"field": "median", "type": "quantitative", "title": null}}},
         {"data": {"name": "boxes"}, "transform": [{"filter": "datum.cohort === 'Healthy controls >50 years' && datum.subset === 'TH17'"}],
          "mark": {"type": "tick", "size": 9, "thickness": 1, "color": "#555555", "opacity": 1},
          "encoding": {"x": {"field": "sex", "type": "nominal", "title": null}, "y": {"field": "lower", "type": "quantitative", "title": null}}},
         {"data": {"name": "boxes"}, "transform": [{"filter": "datum.cohort === 'Healthy controls >50 years' && datum.subset === 'TH17'"}],
          "mark": {"type": "tick", "size": 9, "thickness": 1, "color": "#555555", "opacity": 1},
          "encoding": {"x": {"field": "sex", "type": "nominal", "title": null}, "y": {"field": "upper", "type": "quantitative", "title": null}}},
         {"data": {"name": "outliers"}, "transform": [{"filter": "datum.cohort === 'Healthy controls >50 years' && datum.subset === 'TH17'"}],
          "mark": {"type": "point", "shape": "circle", "filled": false, "size": 9, "color": "#666666", "strokeWidth": 0.7, "opacity": 1},
          "encoding": {"x": {"field": "sex", "type": "nominal", "title": null}, "y": {"field": "value", "type": "quantitative", "title": null}}},
         {"data": {"name": "outliers"}, "transform": [{"filter": "datum.cohort === 'Healthy controls >50 years' && datum.subset === 'TH17'"}],
          "mark": {"type": "text", "fontSize": 4.5, "align": "left", "dx": 2.5, "dy": -3, "color": "#666666"},
          "encoding": {"x": {"field": "sex", "type": "nominal", "title": null}, "y": {"field": "value", "type": "quantitative", "title": null}, "text": {"field": "case"}}},
         {"data": {"name": "pvalues"}, "transform": [{"filter": "datum.cohort === 'Healthy controls >50 years' && datum.subset === 'TH17'"}],
          "mark": {"type": "text", "align": "left", "baseline": "middle", "fontSize": 15, "dx": -39},
          "encoding": {"x": {"datum": "Female", "type": "nominal"}, "y": {"datum": 4.31, "type": "quantitative"}, "text": {"field": "p"}}}
       ]},
      {"width": 13.3, "height": 1, "data": {"values": []}, "mark": "point", "encoding": {}, "view": {"stroke": null}},
      {"width": 164, "height": 131,
       "view": {"fill": "#eeeeee", "stroke": "#9a9a9a", "strokeWidth": 1.5},
       "layer": [
         {"data": {"name": "boxes"}, "transform": [{"filter": "datum.cohort === 'AML' && datum.subset === 'TH17'"}],
          "mark": {"type": "rule", "color": "#555555", "strokeWidth": 1},
          "encoding": {
            "x": {"field": "sex", "type": "nominal", "title": null, "scale": {"type": "band", "domain": ["Female", "Male"], "paddingInner": 0, "paddingOuter": 0.112}, "axis": {"title": null, "labels": true, "labelAngle": 0, "labelFontSize": 15.5, "labelColor": "#222222", "labelPadding": 3, "tickSize": 3, "tickColor": "#555555", "bandPosition": 0.5}},
            "y": {"field": "lower", "type": "quantitative", "title": null, "scale": {"domain": [-0.75, 14.8], "nice": false, "zero": false}, "axis": {"values": [0, 2.5, 5, 7.5, 10, 12.5], "labelOverlap": false, "format": ".2f", "title": null, "labelFontSize": 4.5, "labelColor": "#777777", "tickSize": 2, "tickColor": "#777777", "labelPadding": 1}},
            "y2": {"field": "upper"}}},
         {"data": {"name": "boxes"}, "transform": [{"filter": "datum.cohort === 'AML' && datum.subset === 'TH17'"}],
          "mark": {"type": "bar", "width": 18.5, "fill": "#d4cf96", "stroke": "#8d8b78", "strokeWidth": 1},
          "encoding": {"x": {"field": "sex", "type": "nominal", "title": null}, "y": {"field": "q1", "type": "quantitative", "title": null}, "y2": {"field": "q3"}}},
         {"data": {"name": "boxes"}, "transform": [{"filter": "datum.cohort === 'AML' && datum.subset === 'TH17'"}],
          "mark": {"type": "tick", "size": 18.5, "thickness": 2, "color": "#2e2e2e", "opacity": 1},
          "encoding": {"x": {"field": "sex", "type": "nominal", "title": null}, "y": {"field": "median", "type": "quantitative", "title": null}}},
         {"data": {"name": "boxes"}, "transform": [{"filter": "datum.cohort === 'AML' && datum.subset === 'TH17'"}],
          "mark": {"type": "tick", "size": 9, "thickness": 1, "color": "#555555", "opacity": 1},
          "encoding": {"x": {"field": "sex", "type": "nominal", "title": null}, "y": {"field": "lower", "type": "quantitative", "title": null}}},
         {"data": {"name": "boxes"}, "transform": [{"filter": "datum.cohort === 'AML' && datum.subset === 'TH17'"}],
          "mark": {"type": "tick", "size": 9, "thickness": 1, "color": "#555555", "opacity": 1},
          "encoding": {"x": {"field": "sex", "type": "nominal", "title": null}, "y": {"field": "upper", "type": "quantitative", "title": null}}},
         {"data": {"name": "outliers"}, "transform": [{"filter": "datum.cohort === 'AML' && datum.subset === 'TH17'"}],
          "mark": {"type": "point", "shape": "circle", "filled": false, "size": 9, "color": "#666666", "strokeWidth": 0.7, "opacity": 1},
          "encoding": {"x": {"field": "sex", "type": "nominal", "title": null}, "y": {"field": "value", "type": "quantitative", "title": null}}},
         {"data": {"name": "outliers"}, "transform": [{"filter": "datum.cohort === 'AML' && datum.subset === 'TH17'"}],
          "mark": {"type": "text", "fontSize": 4.5, "align": "left", "dx": 2.5, "dy": -3, "color": "#666666"},
          "encoding": {"x": {"field": "sex", "type": "nominal", "title": null}, "y": {"field": "value", "type": "quantitative", "title": null}, "text": {"field": "case"}}},
         {"data": {"name": "pvalues"}, "transform": [{"filter": "datum.cohort === 'AML' && datum.subset === 'TH17'"}],
          "mark": {"type": "text", "align": "left", "baseline": "middle", "fontSize": 15, "dx": -38},
          "encoding": {"x": {"datum": "Female", "type": "nominal"}, "y": {"datum": 11.4, "type": "quantitative"}, "text": {"field": "p"}}}
       ]},
      {"width": 7.1, "height": 1, "data": {"values": []}, "mark": "point", "encoding": {}, "view": {"stroke": null}},
      {"width": 1, "height": 1, "view": {"stroke": null}, "data": {"values": [{"edge": "right"}]}, "mark": {"type": "rule", "color": "#9b9b9b"}, "encoding": {"x": {"datum": 0.5, "type": "quantitative", "scale": {"domain": [0, 1]}, "axis": null}, "y": {"datum": -0.5, "type": "quantitative", "scale": {"domain": [0, 1], "range": [0, 1]}, "axis": null}, "y2": {"datum": 161.5}}}
    ]},
    {"bounds": "flush", "spacing": 0, "hconcat": [
      {"width": 1, "height": 1, "view": {"stroke": null}, "data": {"values": [{"edge": "left"}]}, "mark": {"type": "rule", "color": "#9b9b9b"}, "encoding": {"x": {"datum": 0.5, "type": "quantitative", "scale": {"domain": [0, 1]}, "axis": null}, "y": {"datum": -7.5, "type": "quantitative", "scale": {"domain": [0, 1], "range": [0, 1]}, "axis": null}, "y2": {"datum": 483.5}}},
      {"width": 13.7, "height": 1, "data": {"values": []}, "mark": "point", "encoding": {}, "view": {"stroke": null}},
      {"width": 585, "height": 472.6, "view": {"stroke": null},
       "data": {"name": "caption"},
       "encoding": {
         "y": {"field": "line", "type": "ordinal", "scale": {"type": "band", "paddingInner": 0, "paddingOuter": 0}, "axis": null},
         "x": {"datum": 0, "type": "quantitative", "scale": {"domain": [0, 1]}, "axis": null},
         "text": {"field": "text"}
       },
       "layer": [
         {"transform": [{"filter": "datum.part === 'title'"}], "mark": {"type": "text", "align": "left", "baseline": "middle", "font": "Lato, Open Sans, sans-serif", "fontSize": 20, "fontWeight": "bold", "color": "#111111"}},
         {"transform": [{"filter": "datum.part === 'body' && datum.line !== 4"}], "mark": {"type": "text", "align": "left", "baseline": "middle", "font": "Lato, Open Sans, sans-serif", "fontSize": 18.8, "fontWeight": "normal", "color": "#1a1a1a"}},
         {"transform": [{"filter": "datum.part === 'body' && datum.line === 4"}], "mark": {"type": "text", "align": "left", "baseline": "middle", "font": "Lato, Open Sans, sans-serif", "fontSize": 17.7, "fontWeight": "normal", "color": "#1a1a1a"}},
         {"transform": [{"filter": "datum.part === 'continuation' && datum.line === 3"}], "mark": {"type": "text", "align": "left", "baseline": "middle", "font": "Lato, Open Sans, sans-serif", "fontSize": 18.8, "fontWeight": "normal", "color": "#1a1a1a", "dx": 248}},
         {"transform": [{"filter": "datum.part === 'label'"}], "mark": {"type": "text", "align": "left", "baseline": "middle", "font": "Lato, Open Sans, sans-serif", "fontSize": 20, "fontWeight": "bold", "color": "#111111", "dx": 254}},
         {"transform": [{"filter": "datum.part === 'continuation' && datum.line === 11"}], "mark": {"type": "text", "align": "left", "baseline": "middle", "font": "Lato, Open Sans, sans-serif", "fontSize": 18.8, "fontWeight": "normal", "color": "#1a1a1a", "dx": 267}}
       ]},
      {"width": 12.3, "height": 1, "data": {"values": []}, "mark": "point", "encoding": {}, "view": {"stroke": null}},
      {"width": 1, "height": 1, "view": {"stroke": null}, "data": {"values": [{"edge": "right"}]}, "mark": {"type": "rule", "color": "#9b9b9b"}, "encoding": {"x": {"datum": 0.5, "type": "quantitative", "scale": {"domain": [0, 1]}, "axis": null}, "y": {"datum": -7.5, "type": "quantitative", "scale": {"domain": [0, 1], "range": [0, 1]}, "axis": null}, "y2": {"datum": 483.5}}}
    ]},
    {"width": 613, "height": 1, "view": {"stroke": null}, "data": {"values": [{"edge": "bottom"}]}, "mark": {"type": "rule", "color": "#9b9b9b"}, "encoding": {"y": {"datum": 0.5, "type": "quantitative", "scale": {"domain": [0, 1]}, "axis": null}}}
  ],
  "config": {
    "view": {"stroke": "#000000", "strokeWidth": 1},
    "axis": {"grid": false, "domain": false, "labelOverlap": false, "labelFont": "Liberation Sans, Arial, sans-serif", "titleFont": "Liberation Sans, Arial, sans-serif", "tickColor": "#000000", "labelColor": "#333333", "tickWidth": 1},
    "title": {"font": "Liberation Sans, Arial, sans-serif", "fontWeight": "normal", "color": "#1a1a1a", "anchor": "middle"},
    "text": {"font": "Liberation Sans, Arial, sans-serif", "color": "#1a1a1a"}
  }
}
